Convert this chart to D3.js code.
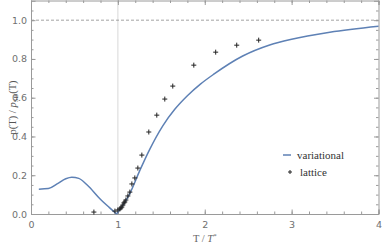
<!DOCTYPE html>
<html>
<head>
<meta charset="utf-8">
<script src="https://cdn.jsdelivr.net/npm/d3@7"></script>
<style>
body { margin: 0; background: #fff; }
</style>
</head>
<body>
<script>
// variational curve, left branch (up to the kink) and right branch
var varLeftT = [0.09, 0.2, 0.3, 0.4, 0.47, 0.55, 0.65, 0.79, 0.9, 0.985];
var varLeftP = [0.128, 0.131, 0.155, 0.182, 0.19, 0.184, 0.148, 0.08, 0.034, 0.0];
var varRightT = [0.985, 1.14, 1.253, 1.368, 1.517, 1.655, 1.8, 1.95, 2.1, 2.437, 2.747, 3.0, 3.44, 4.0];
var varRightP = [0.0, 0.108, 0.225, 0.335, 0.455, 0.54, 0.61, 0.67, 0.72, 0.815, 0.872, 0.902, 0.938, 0.969];

// lattice points
var latT = [0.724, 0.966, 1.0, 1.023, 1.034, 1.046, 1.057, 1.069, 1.08, 1.092, 1.115, 1.138, 1.161, 1.195, 1.23, 1.276, 1.356, 1.448, 1.54, 1.632, 1.874, 2.126, 2.368, 2.621];
var latP = [0.010, 0.015, 0.021, 0.026, 0.031, 0.036, 0.046, 0.057, 0.062, 0.072, 0.093, 0.113, 0.155, 0.186, 0.237, 0.304, 0.423, 0.51, 0.593, 0.66, 0.768, 0.835, 0.871, 0.897];

var xTicks = [0, 1, 2, 3, 4];
var yTicks = [0, 0.2, 0.4, 0.6, 0.8, 1.0];

var WIDTH = 382, HEIGHT = 245;
var L = 31, R = 378.5, T = 0.5, B = 214;

var svg = d3.select('body').append('svg')
  .attr('width', WIDTH).attr('height', HEIGHT);

var x = d3.scaleLinear().domain([0, 4]).range([L, R]);
var y = d3.scaleLinear().domain([0, 1.1]).range([B, T + 0.3]);

var tickCol = '#9a9a9a';

// reference lines
svg.append('line')
  .attr('x1', x(1)).attr('x2', x(1)).attr('y1', y(0)).attr('y2', T)
  .attr('stroke', '#d8d8d8').attr('stroke-width', 1);
svg.append('line')
  .attr('x1', L).attr('x2', R).attr('y1', y(1)).attr('y2', y(1))
  .attr('stroke', '#8c8c8c').attr('stroke-width', 0.8)
  .attr('stroke-dasharray', '3,2');

// frame with ticks on all sides
var minorX = d3.range(0, 4.001, 0.2);
var minorY = d3.range(0, 1.1, 0.05);

function frameAxis(axis, tr, majors, minors, labels) {
  var g = svg.append('g').attr('transform', tr);
  g.call(axis.tickValues(minors).tickSize(2.5).tickFormat(''));
  g.selectAll('.tick line').attr('stroke', tickCol);
  g.select('.domain').remove();
  var g2 = svg.append('g').attr('transform', tr);
  g2.call(axis.tickValues(majors).tickSize(4.5).tickFormat(labels ? axis._fmt : ''));
  g2.selectAll('.tick line').attr('stroke', tickCol);
  g2.select('.domain').attr('stroke', tickCol);
  return g2;
}

var bx = d3.axisTop(x).tickSizeOuter(0);
bx._fmt = d3.format('d');
var gb = frameAxis(bx, 'translate(0,' + B + ')', xTicks, minorX, true);
gb.selectAll('.tick text').attr('y', 7).attr('dy', '0.71em');

var tx = d3.axisBottom(x).tickSizeOuter(0);
frameAxis(tx, 'translate(0,' + T + ')', xTicks, minorX, false);

var ly = d3.axisRight(y).tickSizeOuter(0);
ly._fmt = d3.format('.1f');
var gl = frameAxis(ly, 'translate(' + L + ',0)', yTicks, minorY, true);
gl.selectAll('.tick text').attr('x', -4).attr('text-anchor', 'end');

var ry = d3.axisLeft(y).tickSizeOuter(0);
frameAxis(ry, 'translate(' + R + ',0)', yTicks, minorY, false);

svg.selectAll('.tick text')
  .attr('fill', '#707070')
  .style('font-family', 'DejaVu Sans, sans-serif')
  .style('font-size', '9.5px');

// curve
var line = d3.line()
  .x(function(d){ return x(d[0]); })
  .y(function(d){ return y(d[1]); })
  .curve(d3.curveMonotoneX);

[[varLeftT, varLeftP], [varRightT, varRightP]].forEach(function(s){
  svg.append('path')
    .datum(s[0].map(function(t, i){ return [t, s[1][i]]; }))
    .attr('d', line)
    .attr('fill', 'none')
    .attr('stroke', '#5e81b5')
    .attr('stroke-width', 1.5);
});

// lattice markers
svg.selectAll('.pt')
  .data(latT.map(function(t, i){ return [t, latP[i]]; }))
  .enter().append('path')
  .attr('class', 'pt')
  .attr('d', 'M-2.5,0H2.5M0,-2.5V2.5')
  .attr('transform', function(d){ return 'translate(' + x(d[0]) + ',' + y(d[1]) + ')'; })
  .attr('stroke', '#222')
  .attr('stroke-width', 1);

// legend
var serif = 'Liberation Serif, Times New Roman, serif';
svg.append('line')
  .attr('x1', 283).attr('x2', 291).attr('y1', 155).attr('y2', 155)
  .attr('stroke', '#5e81b5').attr('stroke-width', 1.5);
svg.append('text').attr('x', 297).attr('y', 158.5).text('variational')
  .style('font-family', serif).style('font-size', '11px').attr('fill', '#333');
svg.append('path')
  .attr('d', 'M-2,0H2M0,-2V2')
  .attr('transform', 'translate(290,172)')
  .attr('stroke', '#222').attr('stroke-width', 1);
svg.append('text').attr('x', 300).attr('y', 175.5).text('lattice')
  .style('font-family', serif).style('font-size', '11px').attr('fill', '#333');

// axis labels
var xl = svg.append('text')
  .attr('x', x(2)).attr('y', 242).attr('text-anchor', 'middle')
  .style('font-family', serif).style('font-size', '10.5px').attr('fill', '#666');
xl.append('tspan').text('T / ');
xl.append('tspan').style('font-style', 'italic').text('T');
xl.append('tspan').attr('dy', -4).style('font-size', '7px').text('*');

var yl = svg.append('text')
  .attr('transform', 'translate(16,' + y(0.55) + ') rotate(-90)')
  .attr('text-anchor', 'middle')
  .style('font-family', serif).style('font-size', '10.5px').attr('fill', '#555');
yl.append('tspan').text('p(T) / ');
yl.append('tspan').style('font-style', 'italic').text('p');
yl.append('tspan').attr('dy', 2).style('font-size', '7px').text('SB');
yl.append('tspan').attr('dy', -2).text('(T)');
</script>
</body>
</html>
